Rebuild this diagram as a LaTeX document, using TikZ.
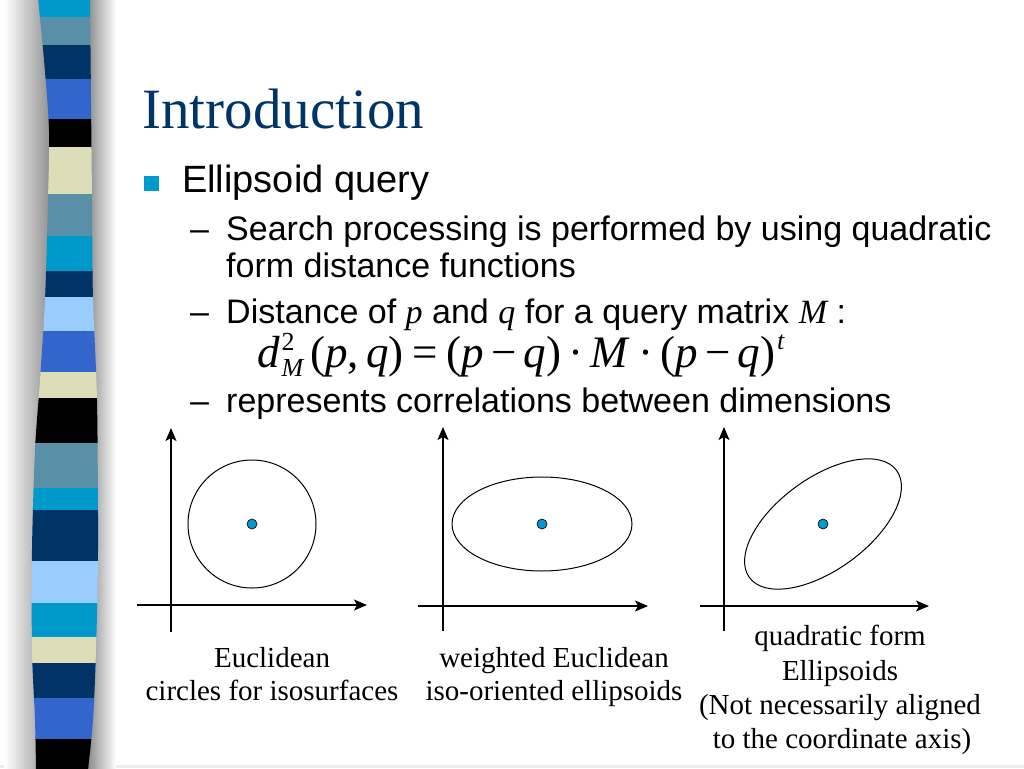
\documentclass[tikz,border=0pt]{standalone}
\usepackage{fontspec}
\setmainfont{Liberation Serif}
\newfontfamily\arialf{Liberation Sans}
\usetikzlibrary{arrows.meta}
\definecolor{titleblue}{RGB}{0,51,102}
\definecolor{bulletcyan}{RGB}{0,153,204}
\definecolor{stcyan}{RGB}{0,153,204}
\definecolor{ststeel}{RGB}{90,143,168}
\definecolor{stnavy}{RGB}{0,51,102}
\definecolor{stroyal}{RGB}{51,102,204}
\definecolor{stcream}{RGB}{221,221,185}
\definecolor{stlight}{RGB}{153,204,255}
\newcommand\ita[1]{{\itshape #1}}
\newcommand\smallfs{\fontsize{26}{26}\selectfont}
\tikzset{
  bodytext/.style={anchor=base west, inner sep=0pt, font=\arialf\fontsize{34}{36}\selectfont},
  captext/.style={anchor=base, inner sep=0pt, font=\fontsize{29}{31}\selectfont},
  axisline/.style={line width=1.3pt, -{Stealth[length=13pt,width=11pt,inset=3pt]}},
  isoline/.style={line width=1pt},
  centerdot/.style={circle, fill=bulletcyan, draw=black, line width=0.6pt, minimum size=10pt, inner sep=0pt}
}
\begin{document}
\begin{tikzpicture}[x=1pt,y=-1pt]
\fill[white] (0,0) rectangle (1024,768);
\useasboundingbox (0,0) rectangle (1024,768);
\fill[black!8] (0,765) rectangle (1024,768);
% shadow of the stripe bar
\shade[left color=white, right color=black!45] (4,0) rectangle (52,768);
\shade[left color=black!48, right color=white] (86,0) rectangle (116,768);
% stripe bar
\begin{scope}
\clip plot[smooth] coordinates {(38,-2) (44,60) (49,130) (48,200) (45,300) (40,380) (35,450) (32,550) (32,650) (35,720) (36,770)}
  -- plot[smooth] coordinates {(88,770) (93,720) (96,650) (98,550) (97,400) (93,300) (92,200) (91,100) (90,-2)} -- cycle;
\foreach \c/\a/\b in {stcyan/-2/17, ststeel/17/45, stnavy/45/79, stroyal/79/119, black/119/147,
  stcream/147/194, ststeel/194/236, stcyan/236/271, stnavy/271/297, stlight/297/331,
  stroyal/331/372, stcream/372/398, black/398/443, ststeel/443/488, stcyan/488/510,
  stnavy/510/561, stlight/561/603, stcyan/603/637, stcream/637/663, stnavy/663/698,
  stroyal/698/739, black/739/770}
  \fill[\c] (20,\a) rectangle (120,\b);
\end{scope}
% title
\node[anchor=base west, inner sep=0pt, text=titleblue, font=\fontsize{57}{60}\selectfont] (title) at (142,128) {Introduction};
% bullet
\node[fill=bulletcyan, minimum size=15pt, inner sep=0pt] (bullet) at (151,183) {};
\node[anchor=base west, inner sep=0pt, font=\arialf\fontsize{38}{40}\selectfont] (l1) at (182,192) {Ellipsoid query};
\node[bodytext] (d1) at (190,240) {–};
\node[bodytext] (l2) at (226,240) {Search processing is performed by using quadratic};
\node[bodytext] (l3) at (226,277) {form distance functions};
\node[bodytext] (d2) at (190,323) {–};
\node[bodytext] (l4) at (226,323) {Distance of {\rmfamily\itshape p} and {\rmfamily\itshape q} for a query matrix {\rmfamily\itshape M} :};
\node[anchor=base west, inner sep=0pt, font=\fontsize{45}{47}\selectfont] (formula) at (257,367)
 {\ita{d}\kern2pt\rlap{\raisebox{17pt}{\smallfs 2}}\raisebox{-9pt}{\smallfs\ita{M}}\kern7pt(\ita{p},\kern7pt\ita{q})\kern9pt=\kern9pt(\ita{p}\kern7pt−\kern7pt\ita{q})\kern7pt·\kern7pt\ita{M}\kern11pt·\kern7pt(\ita{p}\kern7pt−\kern7pt\ita{q})\kern2pt\raisebox{18pt}{\smallfs\ita{t}}};
\node[bodytext] (d3) at (190,412) {–};
\node[bodytext] (l5) at (226,412) {represents correlations between dimensions};
% diagram 1
\coordinate (y1b) at (171,632); \coordinate (y1t) at (171,428);
\coordinate (x1l) at (137,605); \coordinate (x1r) at (367,605);
\draw[axisline] (y1b) -- (y1t);
\draw[axisline] (x1l) -- (x1r);
\coordinate (c1) at (252,524);
\draw[isoline] (c1) circle [radius=64pt];
\node[centerdot] (p1) at (c1) {};
% diagram 2
\coordinate (y2b) at (443,631); \coordinate (y2t) at (443,427);
\coordinate (x2l) at (418,606); \coordinate (x2r) at (648,606);
\draw[axisline] (y2b) -- (y2t);
\draw[axisline] (x2l) -- (x2r);
\coordinate (c2) at (542,524);
\draw[isoline] (c2) ellipse [x radius=90pt, y radius=47pt];
\node[centerdot] (p2) at (c2) {};
% diagram 3
\coordinate (y3b) at (724,631); \coordinate (y3t) at (724,427);
\coordinate (x3l) at (700,606); \coordinate (x3r) at (929,606);
\draw[axisline] (y3b) -- (y3t);
\draw[axisline] (x3l) -- (x3r);
\coordinate (c3) at (823,524);
\draw[isoline, rotate around={36:(c3)}] (c3) ellipse [x radius=91pt, y radius=46pt];
\node[centerdot] (p3) at (c3) {};
% captions
\node[captext] (t1a) at (272,667) {Euclidean};
\node[captext] (t1b) at (272,700) {circles for isosurfaces};
\node[captext] (t2a) at (554,667) {weighted Euclidean};
\node[captext] (t2b) at (554,700) {iso-oriented ellipsoids};
\node[captext] (t3a) at (840,645) {quadratic form};
\node[captext] (t3b) at (840,680) {Ellipsoids};
\node[captext] (t3c) at (840,714) {(Not necessarily aligned};
\node[captext] (t3d) at (842,748) {to the coordinate axis)};
\end{tikzpicture}
\end{document}
